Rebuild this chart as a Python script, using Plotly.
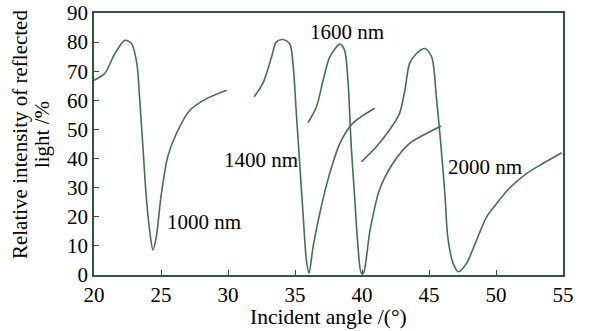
import plotly.graph_objects as go

# 1000 nm
x1000 = [20.0, 20.8, 21.55, 22.3, 22.8, 23.2, 23.4, 23.65, 23.9, 24.15, 24.4, 24.65, 25.0, 25.5, 26.15, 27.15, 28.4, 29.9]
y1000 = [66.9, 69.2, 76.0, 80.6, 79.5, 72.6, 61.0, 44.0, 26.9, 15.4, 8.6, 13.1, 26.9, 40.6, 48.6, 56.6, 60.6, 63.5]
# 1400 nm
x1400 = [31.95, 32.6, 33.25, 33.6, 34.1, 34.6, 34.85, 35.1, 35.35, 35.6, 35.85, 36.05, 36.35, 36.85, 37.45, 38.35, 39.3, 40.95]
y1400 = [61.2, 65.8, 74.9, 80.0, 80.9, 79.5, 72.6, 55.5, 38.3, 21.2, 5.1, 0.6, 9.7, 21.2, 32.6, 45.2, 52.1, 57.3]
# 1600 nm
x1600 = [35.97, 36.6, 37.1, 37.6, 38.35, 38.7, 38.95, 39.2, 39.45, 39.7, 39.95, 40.1, 40.6, 41.3, 42.3, 43.55, 44.8, 45.9]
y1600 = [52.3, 57.8, 66.9, 74.9, 79.3, 77.2, 66.9, 44.0, 26.9, 9.7, 0.6, 0.6, 15.4, 29.2, 38.3, 45.2, 48.6, 51.2]
# 2000 nm
x2000 = [39.95, 41.05, 42.05, 42.8, 43.2, 43.55, 44.05, 44.7, 45.2, 45.55, 45.9, 46.2, 46.4, 46.8, 47.2, 47.8, 48.55, 49.3, 50.05, 51.0, 52.3, 53.5, 54.9]
y2000 = [38.9, 44.0, 49.8, 55.5, 63.5, 72.6, 76.0, 77.8, 74.9, 61.2, 44.0, 26.9, 13.1, 4.0, 1.1, 4.0, 12.0, 20.0, 24.6, 29.8, 34.9, 38.3, 42.0]

labels = ["1000 nm", "1400 nm", "1600 nm", "2000 nm"]
label_x = [25.3, 29.55, 36.0, 46.25]
label_y = [18.2, 39.5, 83.4, 37.0]

xticks = [20, 25, 30, 35, 40, 45, 50, 55]
yticks = [0, 10, 20, 30, 40, 50, 60, 70, 80, 90]

x_title = "Incident angle /(°)"
y_title_lines = ["Relative intensity of reflected", "light /%"]

LINE = "#45704f"
AXIS = "#33553b"
FONT = "Liberation Serif"

fig = go.Figure()
for xs, ys, name in [(x1000, y1000, labels[0]), (x1400, y1400, labels[1]),
                     (x1600, y1600, labels[2]), (x2000, y2000, labels[3])]:
    fig.add_trace(go.Scatter(x=xs, y=ys, mode="lines", name=name,
                             line=dict(color=LINE, width=1.6, shape="spline", smoothing=0.8)))

for t, lx, ly in zip(labels, label_x, label_y):
    fig.add_annotation(x=lx, y=ly, text=t, showarrow=False, xanchor="left", yanchor="middle",
                       font=dict(family=FONT, size=21, color="black"))

# axis titles as annotations for exact placement
fig.add_annotation(x=0.5, y=-0.162, xref="paper", yref="paper", text=x_title, showarrow=False,
                   xanchor="center", yanchor="middle", font=dict(family=FONT, size=21.5, color="black"))
for t, px in zip(y_title_lines, [-0.158, -0.111]):
    fig.add_annotation(x=px, y=0.5376, xref="paper", yref="paper", text=t, showarrow=False,
                       textangle=-90, xanchor="center", yanchor="middle",
                       font=dict(family=FONT, size=21, color="black"))

fig.update_layout(
    width=590, height=331,
    margin=dict(l=94, r=27, t=13, b=56),
    paper_bgcolor="white", plot_bgcolor="white",
    showlegend=False,
    font=dict(family=FONT, size=21, color="black"),
)
fig.update_xaxes(range=[20, 55], tickvals=xticks, ticks="inside", ticklen=5, tickcolor=AXIS,
                 showline=True, linecolor=AXIS, linewidth=1.5, mirror=True, showgrid=False, zeroline=False,
                 automargin=False, ticklabeloverflow="allow")
fig.update_yaxes(range=[0, 90], tickvals=yticks, ticks="inside", ticklen=5, tickcolor=AXIS,
                 showline=True, linecolor=AXIS, linewidth=1.5, mirror=True, showgrid=False, zeroline=False,
                 automargin=False, ticklabeloverflow="allow")

# remove the browser's default 8px body margin so the figure fills the window
fig.write_html("out.html", config={"displayModeBar": False},
               post_script="document.body.style.margin='0';")
